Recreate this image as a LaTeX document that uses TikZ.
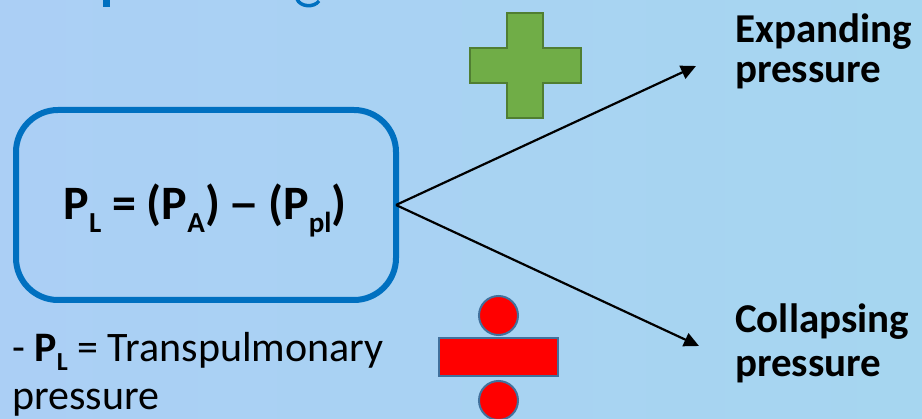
\documentclass[tikz,border=0pt]{standalone}
\usepackage{fontspec}
\setmainfont{Carlito}
\usetikzlibrary{arrows.meta}
\definecolor{bgL}{RGB}{171,207,245}
\definecolor{bgR}{RGB}{166,214,240}
\definecolor{boxblue}{RGB}{0,112,192}
\definecolor{plusgreen}{RGB}{112,173,71}
\definecolor{plusedge}{RGB}{80,126,50}
\definecolor{divedge}{RGB}{65,113,156}
\newcommand\eqsub[1]{\raisebox{-13pt}{\fontsize{29}{30}\selectfont #1}}
\newcommand\txsub[1]{\raisebox{-9pt}{\fontsize{26}{27}\selectfont #1}}
\tikzset{
  eqbox/.style={draw=boxblue, line width=6pt, rounded corners=42pt, minimum width=380pt, minimum height=190pt, inner sep=0pt, outer sep=0pt},
  conn/.style={line width=2.2pt, -{Triangle[length=15pt,width=14pt]}},
  lbl/.style={anchor=base west, inner sep=0pt, align=left},
  plusshape/.style={fill=plusgreen, draw=plusedge, line width=1.5pt},
  divshape/.style={fill=red, draw=divedge, line width=2pt},
}
\begin{document}
\begin{tikzpicture}[x=1pt,y=-1pt]
\shade[left color=bgL,right color=bgR] (0,0) rectangle (922,419);
\useasboundingbox (0,0) rectangle (922,419);
% fragments of the cut-off title
\fill[boxblue] (103,0) rectangle (110,7);
\draw[boxblue, line width=3.5pt] (297,-1) .. controls (300,7) and (314,8) .. (319,1);
% equation box
\node[eqbox] (box) at (206,205) {};
\node[anchor=base, inner sep=0pt] (eqt) at (205,220) {\fontsize{48}{58}\selectfont\bfseries P\eqsub{L} = (P\eqsub{A})\hspace{0.18em}\scalebox{1.3}[1]{–}\hspace{0.18em}(P\eqsub{pl})};
% arrows
\coordinate (tipU) at (696,66);
\coordinate (tipD) at (699,346);
\draw[conn] (box.east) -- (tipU);
\draw[conn] (box.east) -- (tipD);
% labels (anchored at the baseline of their last line)
\node[lbl, font=\fontsize{41}{40}\selectfont\bfseries] (exp) at (735,83) {Expanding\\pressure};
\node[lbl, font=\fontsize{41}{44}\selectfont\bfseries] (col) at (735,377) {Collapsing\\pressure};
\node[lbl, font=\fontsize{42}{48}\selectfont] (def) at (12,410) {- \textbf{P\txsub{L}} = Transpulmonary\\pressure};
% plus sign
\draw[plusshape] (507,13) -- (543,13) -- (543,48) -- (581,48) -- (581,83) -- (543,83) -- (543,118) -- (507,118) -- (507,83) -- (470,83) -- (470,48) -- (507,48) -- cycle;
% divide sign
\draw[divshape] (498.5,315.5) circle (19.5);
\draw[divshape] (439,338) rectangle (558,376);
\draw[divshape] (498.5,400.5) circle (19.5);
\end{tikzpicture}
\end{document}
